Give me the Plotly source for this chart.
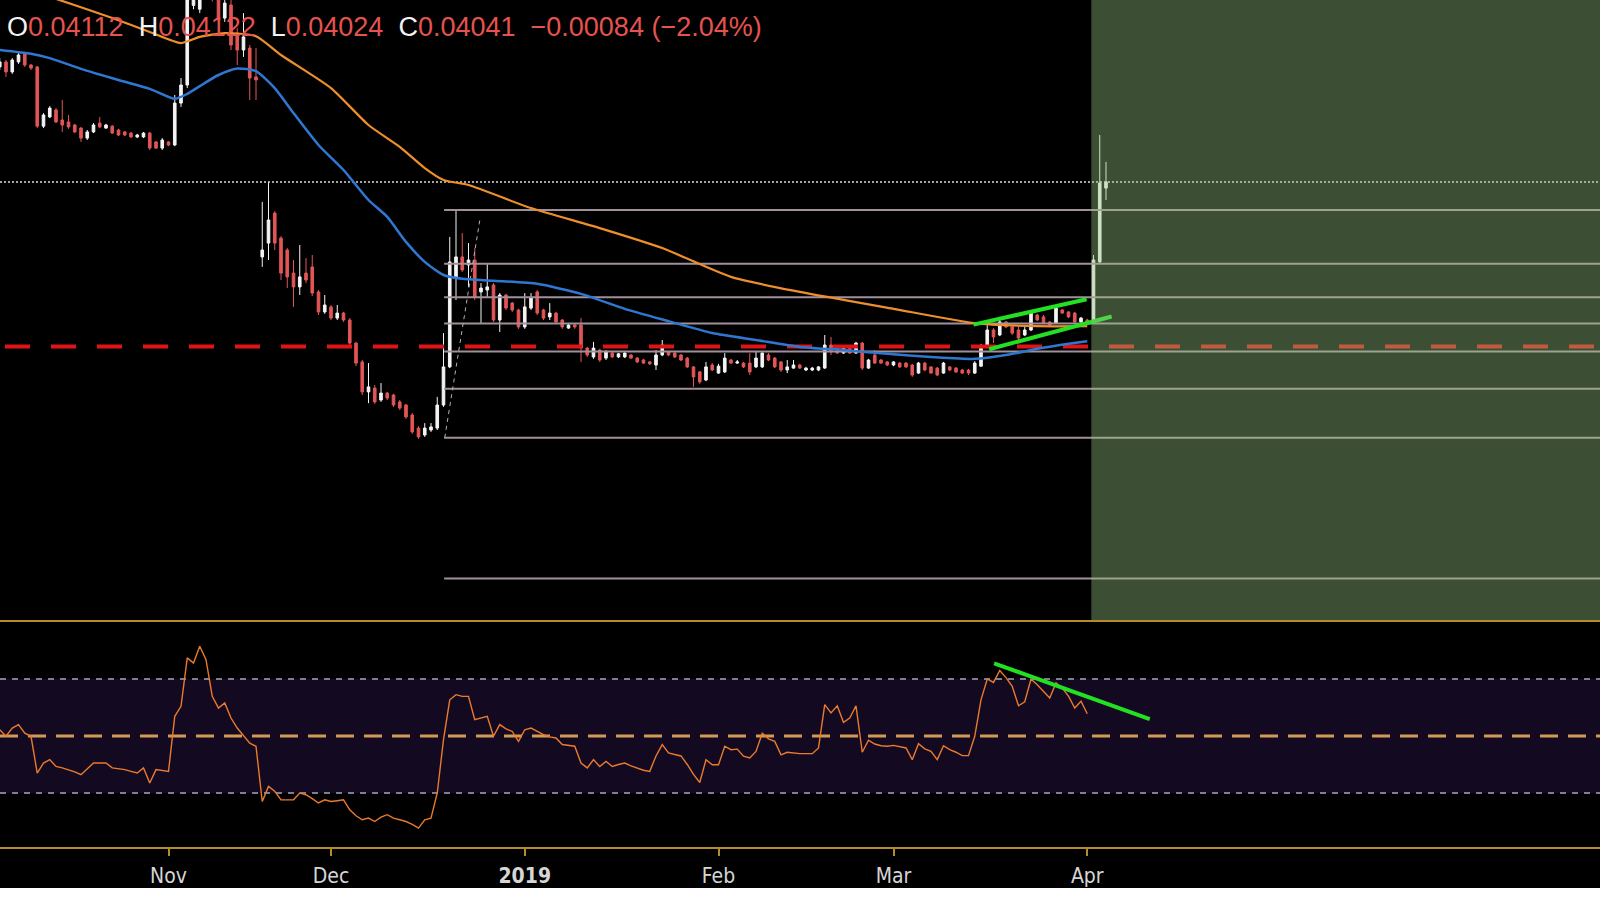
import plotly.graph_objects as go

# ---------------- data ----------------
first_bar = -1
opens = [0.04340, 0.04353, 0.04327, 0.04353, 0.04374, 0.04345, 0.04340, 0.04186, 0.04210, 0.04228,
         0.04202, 0.04197, 0.04189, 0.04181, 0.04155, 0.04171, 0.04194, 0.04181, 0.04186, 0.04176,
         0.04171, 0.04168, 0.04158, 0.04158, 0.04168, 0.04145, 0.04129, 0.04145, 0.04137, 0.04246,
         0.04293, 0.04500, 0.04490, 0.04560, 0.04620, 0.04519, 0.04467, 0.04501, 0.04428, 0.04384,
         0.04389, 0.04314, 0.03846, 0.03882, 0.03960, 0.03895, 0.03864, 0.03804, 0.03768, 0.03804,
         0.03820, 0.03755, 0.03703, 0.03716, 0.03687, 0.03700, 0.03682, 0.03622, 0.03573, 0.03495,
         0.03505, 0.03474, 0.03492, 0.03487, 0.03469, 0.03461, 0.03435, 0.03401, 0.03383, 0.03396,
         0.03401, 0.03461, 0.03560, 0.03794, 0.03846, 0.03825, 0.03838, 0.03755, 0.03760, 0.03773,
         0.03682, 0.03747, 0.03726, 0.03708, 0.03664, 0.03713, 0.03755, 0.03708, 0.03690, 0.03700,
         0.03682, 0.03661, 0.03669, 0.03669, 0.03609, 0.03586, 0.03604, 0.03583, 0.03596, 0.03586,
         0.03586, 0.03591, 0.03583, 0.03578, 0.03573, 0.03565, 0.03591, 0.03599, 0.03596, 0.03591,
         0.03583, 0.03560, 0.03547, 0.03526, 0.03565, 0.03544, 0.03547, 0.03578, 0.03570, 0.03570,
         0.03570, 0.03560, 0.03560, 0.03591, 0.03583, 0.03573, 0.03552, 0.03557, 0.03565, 0.03552,
         0.03552, 0.03552, 0.03557, 0.03617, 0.03612, 0.03596, 0.03609, 0.03596, 0.03622, 0.03557,
         0.03591, 0.03578, 0.03573, 0.03565, 0.03570, 0.03570, 0.03565, 0.03544, 0.03570, 0.03560,
         0.03557, 0.03544, 0.03560, 0.03557, 0.03552, 0.03552, 0.03544, 0.03562, 0.03612, 0.03656,
         0.03643, 0.03677, 0.03664, 0.03656, 0.03643, 0.03656, 0.03695, 0.03690, 0.03677, 0.03674,
         0.03708, 0.03703, 0.03700, 0.03677, 0.03682, 0.03674, 0.03833, 0.04025]
highs = [0.04363, 0.04358, 0.04363, 0.04376, 0.04376, 0.04348, 0.04342, 0.04220, 0.04238, 0.04233,
         0.04254, 0.04215, 0.04192, 0.04184, 0.04176, 0.04194, 0.04210, 0.04192, 0.04189, 0.04179,
         0.04173, 0.04171, 0.04166, 0.04171, 0.04171, 0.04147, 0.04155, 0.04147, 0.04267, 0.04311,
         0.04580, 0.04610, 0.04600, 0.04660, 0.04650, 0.04540, 0.04527, 0.04514, 0.04441, 0.04480,
         0.04397, 0.04389, 0.03989, 0.04041, 0.03965, 0.03900, 0.03869, 0.03838, 0.03877, 0.03843,
         0.03851, 0.03760, 0.03747, 0.03721, 0.03721, 0.03703, 0.03687, 0.03625, 0.03578, 0.03570,
         0.03513, 0.03518, 0.03495, 0.03490, 0.03474, 0.03464, 0.03440, 0.03406, 0.03414, 0.03414,
         0.03482, 0.03648, 0.03898, 0.03968, 0.03908, 0.03882, 0.03869, 0.03778, 0.03830, 0.03778,
         0.03752, 0.03750, 0.03729, 0.03711, 0.03752, 0.03752, 0.03760, 0.03711, 0.03726, 0.03703,
         0.03685, 0.03672, 0.03674, 0.03687, 0.03612, 0.03625, 0.03607, 0.03604, 0.03599, 0.03596,
         0.03599, 0.03594, 0.03586, 0.03581, 0.03575, 0.03604, 0.03630, 0.03601, 0.03599, 0.03594,
         0.03586, 0.03562, 0.03549, 0.03573, 0.03570, 0.03568, 0.03596, 0.03581, 0.03578, 0.03573,
         0.03596, 0.03599, 0.03599, 0.03596, 0.03586, 0.03575, 0.03578, 0.03578, 0.03568, 0.03560,
         0.03560, 0.03562, 0.03643, 0.03638, 0.03614, 0.03612, 0.03612, 0.03625, 0.03625, 0.03581,
         0.03604, 0.03581, 0.03575, 0.03575, 0.03573, 0.03573, 0.03568, 0.03573, 0.03573, 0.03562,
         0.03560, 0.03573, 0.03562, 0.03560, 0.03555, 0.03555, 0.03575, 0.03620, 0.03677, 0.03661,
         0.03690, 0.03679, 0.03666, 0.03664, 0.03664, 0.03708, 0.03698, 0.03695, 0.03679, 0.03716,
         0.03711, 0.03705, 0.03703, 0.03690, 0.03685, 0.03851, 0.04163, 0.04093]
lows = [0.04332, 0.04314, 0.04322, 0.04348, 0.04340, 0.04332, 0.04181, 0.04181, 0.04207, 0.04194,
        0.04171, 0.04179, 0.04168, 0.04145, 0.04150, 0.04168, 0.04181, 0.04179, 0.04166, 0.04160,
        0.04160, 0.04155, 0.04155, 0.04155, 0.04124, 0.04127, 0.04124, 0.04134, 0.04134, 0.04236,
        0.04285, 0.04490, 0.04480, 0.04540, 0.04510, 0.04457, 0.04457, 0.04384, 0.04345, 0.04366,
        0.04254, 0.04254, 0.03820, 0.03838, 0.03864, 0.03786, 0.03765, 0.03716, 0.03747, 0.03778,
        0.03744, 0.03695, 0.03698, 0.03682, 0.03682, 0.03677, 0.03617, 0.03562, 0.03487, 0.03466,
        0.03464, 0.03469, 0.03474, 0.03456, 0.03448, 0.03425, 0.03386, 0.03373, 0.03378, 0.03391,
        0.03396, 0.03456, 0.03557, 0.03734, 0.03807, 0.03768, 0.03734, 0.03674, 0.03742, 0.03677,
        0.03651, 0.03708, 0.03703, 0.03659, 0.03659, 0.03708, 0.03695, 0.03682, 0.03682, 0.03672,
        0.03659, 0.03659, 0.03659, 0.03573, 0.03586, 0.03581, 0.03573, 0.03578, 0.03583, 0.03583,
        0.03583, 0.03581, 0.03570, 0.03568, 0.03565, 0.03552, 0.03588, 0.03588, 0.03583, 0.03575,
        0.03557, 0.03508, 0.03516, 0.03523, 0.03549, 0.03542, 0.03544, 0.03568, 0.03568, 0.03557,
        0.03539, 0.03557, 0.03557, 0.03575, 0.03557, 0.03547, 0.03544, 0.03555, 0.03555, 0.03549,
        0.03549, 0.03549, 0.03555, 0.03591, 0.03594, 0.03594, 0.03594, 0.03594, 0.03552, 0.03555,
        0.03568, 0.03568, 0.03562, 0.03562, 0.03557, 0.03557, 0.03534, 0.03542, 0.03549, 0.03542,
        0.03536, 0.03542, 0.03549, 0.03544, 0.03542, 0.03539, 0.03542, 0.03560, 0.03609, 0.03622,
        0.03640, 0.03661, 0.03643, 0.03625, 0.03640, 0.03653, 0.03679, 0.03672, 0.03666, 0.03672,
        0.03698, 0.03687, 0.03674, 0.03674, 0.03672, 0.03672, 0.03830, 0.03994]
closes = [0.04353, 0.04327, 0.04358, 0.04371, 0.04345, 0.04337, 0.04186, 0.04215, 0.04233, 0.04197,
          0.04189, 0.04184, 0.04171, 0.04155, 0.04171, 0.04189, 0.04184, 0.04189, 0.04168, 0.04163,
          0.04163, 0.04158, 0.04163, 0.04168, 0.04129, 0.04129, 0.04150, 0.04137, 0.04246, 0.04293,
          0.04540, 0.04585, 0.04560, 0.04620, 0.04530, 0.04462, 0.04506, 0.04397, 0.04384, 0.04418,
          0.04311, 0.04306, 0.03864, 0.03942, 0.03882, 0.03804, 0.03794, 0.03768, 0.03794, 0.03786,
          0.03752, 0.03703, 0.03721, 0.03687, 0.03700, 0.03682, 0.03622, 0.03570, 0.03495, 0.03508,
          0.03469, 0.03492, 0.03479, 0.03461, 0.03453, 0.03430, 0.03391, 0.03378, 0.03401, 0.03404,
          0.03461, 0.03560, 0.03833, 0.03846, 0.03812, 0.03838, 0.03742, 0.03765, 0.03768, 0.03682,
          0.03747, 0.03713, 0.03708, 0.03664, 0.03716, 0.03739, 0.03700, 0.03687, 0.03700, 0.03677,
          0.03664, 0.03669, 0.03664, 0.03609, 0.03591, 0.03609, 0.03578, 0.03599, 0.03586, 0.03594,
          0.03596, 0.03583, 0.03573, 0.03570, 0.03568, 0.03591, 0.03617, 0.03591, 0.03586, 0.03578,
          0.03560, 0.03534, 0.03521, 0.03560, 0.03552, 0.03562, 0.03583, 0.03570, 0.03573, 0.03560,
          0.03547, 0.03583, 0.03596, 0.03578, 0.03560, 0.03552, 0.03560, 0.03565, 0.03557, 0.03557,
          0.03557, 0.03560, 0.03617, 0.03599, 0.03596, 0.03609, 0.03596, 0.03622, 0.03557, 0.03578,
          0.03570, 0.03570, 0.03565, 0.03573, 0.03560, 0.03560, 0.03539, 0.03570, 0.03552, 0.03544,
          0.03539, 0.03570, 0.03552, 0.03547, 0.03544, 0.03544, 0.03570, 0.03614, 0.03656, 0.03638,
          0.03677, 0.03664, 0.03648, 0.03635, 0.03656, 0.03700, 0.03682, 0.03674, 0.03669, 0.03713,
          0.03700, 0.03690, 0.03677, 0.03687, 0.03674, 0.03838, 0.04038, 0.04041]
bar_x = list(range(first_bar, first_bar + len(opens)))

rsi_first = -1
rsi_vals = [52.2, 49.9, 52.8, 54.0, 51.0, 49.9, 37.0, 40.5, 41.7, 39.3,
            38.8, 38.2, 37.4, 36.4, 38.6, 40.5, 40.5, 40.5, 38.8, 38.5,
            38.2, 37.6, 37.0, 38.8, 33.5, 38.2, 38.0, 37.6, 56.9, 60.4,
            77.4, 75.6, 81.5, 76.8, 63.9, 59.8, 61.6, 56.3, 52.8, 50.0,
            47.5, 46.4, 27.0, 32.3, 30.6, 27.6, 27.6, 27.6, 30.0, 29.4,
            28.0, 26.5, 27.6, 27.0, 27.3, 27.6, 24.1, 22.0, 20.6, 21.2,
            20.0, 21.5, 22.4, 21.2, 20.6, 20.0, 19.0, 17.7, 20.6, 21.2,
            30.0, 48.7, 62.7, 64.5, 63.9, 63.9, 55.7, 56.3, 56.9, 49.9,
            54.0, 52.5, 51.6, 48.1, 52.2, 52.8, 51.5, 50.5, 49.7, 49.3,
            47.0, 46.8, 46.4, 40.5, 38.8, 41.7, 39.3, 41.1, 39.3, 40.0,
            40.5, 39.5, 38.8, 38.0, 37.6, 43.0, 47.0, 44.1, 43.5, 43.0,
            40.0, 36.5, 33.7, 41.7, 39.9, 39.9, 46.4, 45.2, 45.4, 42.9,
            42.3, 44.6, 51.0, 49.0, 48.1, 43.4, 44.3, 44.0, 43.8, 43.8,
            43.8, 45.8, 61.0, 58.1, 60.6, 54.8, 56.3, 60.6, 44.3, 48.5,
            47.2, 46.6, 46.4, 46.7, 46.2, 45.8, 41.7, 47.3, 45.5, 44.6,
            41.7, 46.6, 45.2, 44.3, 43.1, 43.1, 49.9, 62.7, 70.0, 68.8,
            73.0, 70.5, 67.4, 60.6, 62.0, 70.0, 68.0, 65.7, 63.3, 68.6,
            66.8, 64.0, 59.8, 62.2, 57.8]
rsi_x = list(range(rsi_first, rsi_first + len(rsi_vals)))

ema_slow_x = [0, 8, 17, 23, 28, 31, 35, 40, 44, 52, 58, 63, 67, 70, 74, 84, 95, 105, 116, 127, 142, 155, 165, 173]
ema_slow = [0.04558, 0.04517, 0.04467, 0.04431, 0.04402, 0.04418, 0.04428, 0.04420, 0.04371, 0.04285,
            0.04189, 0.04132, 0.04077, 0.04046, 0.04033, 0.03973, 0.03921, 0.03869, 0.03794, 0.03755,
            0.03711, 0.03674, 0.03666, 0.03666]
ema_fast_x = [-1, 4, 7, 12, 18, 23, 27, 29, 31, 34, 37, 40, 43, 46, 50, 54, 58, 61, 64, 67, 70, 73, 78,
              85, 92, 99, 106, 113, 120, 127, 134, 141, 148, 155, 160, 165, 170, 173]
ema_fast = [0.04384, 0.04374, 0.04363, 0.04335, 0.04306, 0.04283, 0.04257, 0.04270, 0.04290, 0.04319,
            0.04336, 0.04329, 0.04285, 0.04220, 0.04137, 0.04072, 0.03994, 0.03950, 0.03885, 0.03833,
            0.03799, 0.03789, 0.03784, 0.03776, 0.03750, 0.03711, 0.03679, 0.03648, 0.03630, 0.03612,
            0.03604, 0.03594, 0.03586, 0.03581, 0.03591, 0.03607, 0.03620, 0.03627]

fib_levels = [0.03968, 0.03828, 0.03741, 0.03673, 0.03600, 0.03503, 0.03376, 0.03010]
fib_start = 70.1
fib_diag_x = [70.2, 75.9]
fib_diag_y = [0.03376, 0.03951]

support_level = 0.03613
support_start = -0.16
last_price = 0.04041

channel_upper_x = [154.8, 172.9]
channel_upper_y = [0.03670, 0.03736]
channel_lower_x = [157.3, 176.9]
channel_lower_y = [0.03606, 0.03691]
rsi_trend_x = [158.1, 183.0]
rsi_trend_y = [75.5, 55.9]

rsi_band = [30, 70]
rsi_mid = 50
projection_start = 173.65

tick_vals = [26, 52, 83, 114, 142, 173]
tick_text = ["Nov", "Dec", "<b>2019</b>", "Feb", "Mar", "Apr"]

x_range = [-0.96, 255.04]
price_range = [0.02902, 0.04514]
rsi_range = [11.05, 90]

hdr_open, hdr_high, hdr_low, hdr_close = "0.04112", "0.04122", "0.04024", "0.04041"
hdr_change, hdr_pct = "−0.00084", "(−2.04%)"

# ---------------- styles ----------------
W, H = 1600, 900
RED = "#e25656"
WHITE = "#f4f4f4"
GOLD = "#b48c2a"
x_far = x_range[1] + 10

fig = go.Figure()

for lvl in fib_levels:
    fig.add_trace(go.Scatter(x=[fib_start, x_far], y=[lvl, lvl], mode="lines",
                             line=dict(color="#a0909b", width=2), hoverinfo="skip",
                             xaxis="x", yaxis="y"))
fig.add_trace(go.Scatter(x=fib_diag_x, y=fib_diag_y, mode="lines",
                         line=dict(color="#b8b0b8", width=1, dash="4px,4px"), hoverinfo="skip"))
fig.add_trace(go.Scatter(x=[support_start, x_far], y=[support_level, support_level], mode="lines",
                         line=dict(color="#e01414", width=4, dash="25px,21px"), hoverinfo="skip"))
fig.add_trace(go.Scatter(x=[x_range[0], x_far], y=[last_price, last_price], mode="lines",
                         line=dict(color="#dcdcdc", width=1.5, dash="2px,2px"), hoverinfo="skip"))
fig.add_trace(go.Scatter(x=ema_slow_x, y=ema_slow, mode="lines",
                         line=dict(color="#ee8f2c", width=2.2, shape="spline", smoothing=0.6),
                         hoverinfo="skip"))
fig.add_trace(go.Scatter(x=ema_fast_x, y=ema_fast, mode="lines",
                         line=dict(color="#2f78d2", width=2.5, shape="spline", smoothing=0.6),
                         hoverinfo="skip"))
fig.add_trace(go.Candlestick(x=bar_x, open=opens, high=highs, low=lows, close=closes,
                             increasing=dict(line=dict(color=WHITE, width=1), fillcolor=WHITE),
                             decreasing=dict(line=dict(color=RED, width=1), fillcolor=RED),
                             whiskerwidth=0, hoverinfo="skip", xaxis="x", yaxis="y"))
for cx, cy in [(channel_upper_x, channel_upper_y), (channel_lower_x, channel_lower_y)]:
    fig.add_trace(go.Scatter(x=cx, y=cy, mode="lines", line=dict(color="#22e022", width=4),
                             hoverinfo="skip"))

fig.add_trace(go.Scatter(x=rsi_x, y=rsi_vals, mode="lines", line=dict(color="#ea7a2c", width=1.4),
                         hoverinfo="skip", xaxis="x2", yaxis="y2"))
fig.add_trace(go.Scatter(x=rsi_trend_x, y=rsi_trend_y, mode="lines",
                         line=dict(color="#22e022", width=4), hoverinfo="skip",
                         xaxis="x2", yaxis="y2"))

main_dom = [1 - 620 / H, 1]
rsi_dom = [1 - 847 / H, 1 - 622 / H]

shapes = [
    dict(type="rect", xref="x2 domain", yref="y2", x0=0, x1=1, y0=rsi_band[0], y1=rsi_band[1],
         fillcolor="#130a22", line=dict(width=0), layer="below"),
    dict(type="line", xref="x2 domain", yref="y2", x0=0, x1=1, y0=rsi_band[1], y1=rsi_band[1],
         line=dict(color="#a6a6b6", width=1.5, dash="6px,6px"), layer="below"),
    dict(type="line", xref="x2 domain", yref="y2", x0=0, x1=1, y0=rsi_band[0], y1=rsi_band[0],
         line=dict(color="#a6a6b6", width=1.5, dash="6px,6px"), layer="below"),
    dict(type="line", xref="x2 domain", yref="y2", x0=0, x1=1, y0=rsi_mid, y1=rsi_mid,
         line=dict(color="#d49a55", width=3, dash="18px,10px"), layer="below"),
    dict(type="rect", xref="x", yref="y domain", x0=projection_start, x1=x_far, y0=0, y1=1,
         fillcolor="rgba(150,195,128,0.40)", line=dict(width=0), layer="above"),
    dict(type="line", xref="paper", yref="paper", x0=0, x1=1, y0=1 - 621 / H, y1=1 - 621 / H,
         line=dict(color=GOLD, width=2)),
    dict(type="rect", xref="paper", yref="paper", x0=0, x1=1, y0=0, y1=12 / H,
         fillcolor="#ffffff", line=dict(width=0), layer="above"),
]

header = (f"O<span style='color:#e5534f'>{hdr_open}</span>&nbsp;&nbsp;"
          f"H<span style='color:#e5534f'>{hdr_high}</span>&nbsp;&nbsp;"
          f"L<span style='color:#e5534f'>{hdr_low}</span>&nbsp;&nbsp;"
          f"C<span style='color:#e5534f'>{hdr_close}</span>&nbsp;&nbsp;"
          f"<span style='color:#e5534f'>{hdr_change} {hdr_pct}</span>")

fig.update_layout(
    width=W, height=H, margin=dict(l=0, r=0, t=0, b=0),
    paper_bgcolor="#000000", plot_bgcolor="#000000",
    showlegend=False, boxgap=0.4,
    xaxis=dict(domain=[0, 1], range=x_range, anchor="y", visible=False,
               rangeslider=dict(visible=False), fixedrange=True),
    yaxis=dict(domain=main_dom, range=price_range, visible=False, fixedrange=True),
    xaxis2=dict(domain=[0, 1], range=x_range, anchor="y2", showgrid=False, zeroline=False,
                showline=True, linecolor=GOLD, linewidth=2, ticks="outside", ticklen=7,
                tickcolor=GOLD, tickwidth=1.5, tickvals=tick_vals, ticktext=tick_text,
                tickfont=dict(family="Liberation Sans Narrow, DejaVu Sans Condensed, sans-serif",
                              size=21, color="#d6d6d6"),
                ticklabelstandoff=2),
    yaxis2=dict(domain=rsi_dom, range=rsi_range, visible=False, fixedrange=True),
    shapes=shapes,
    annotations=[dict(xref="paper", yref="paper", x=5 / W, y=1 - 27 / H, xanchor="left",
                      yanchor="middle", showarrow=False, text=header,
                      font=dict(family="Liberation Sans, Arial, sans-serif", size=27,
                                color="#f2f2f2"))],
)

fig.write_html("out.html")
